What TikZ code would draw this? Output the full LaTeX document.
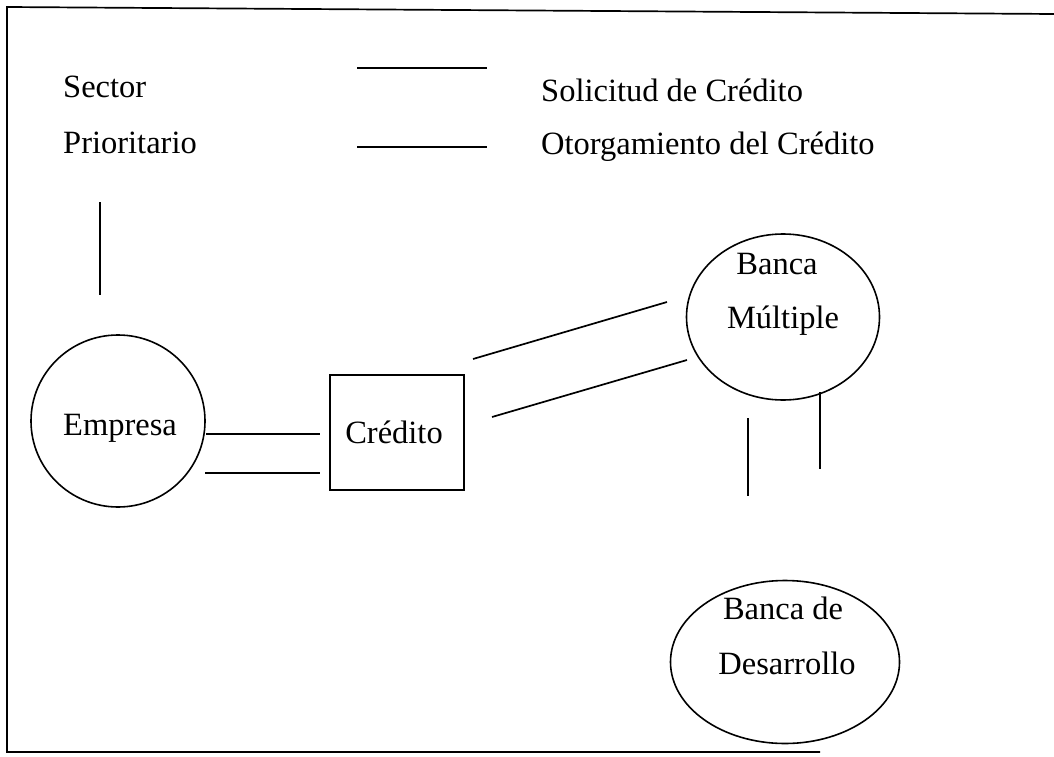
\documentclass[tikz,border=0pt]{standalone}
\usepackage{fontspec}
\setmainfont{Liberation Serif}
\usetikzlibrary{shapes.geometric}
\begin{document}
\begin{tikzpicture}[x=1pt,y=-1pt,
  every node/.style={font=\fontsize{32.5}{38}\selectfont, inner sep=0pt},
  stroke/.style={line width=1.7pt, black},
  bubble/.style={draw, ellipse, line width=1.6pt, inner sep=0pt},
  lbl/.style={anchor=center},
  lgd/.style={anchor=west}]
\useasboundingbox (0,0) rectangle (1054,757);
% frame
\coordinate (fTL) at (7,7);
\coordinate (fTR) at (1054,14);
\coordinate (fBL) at (7,752);
\coordinate (fBR) at (820,752);
\draw[stroke] (fTR) -- (fTL) -- (fBL) -- (fBR);
% legend
\node[lgd] (sector) at (63,87) {Sector};
\node[lgd] (prior) at (63,143) {Prioritario};
\coordinate (l1a) at (357,68); \coordinate (l1b) at (487,68);
\coordinate (l2a) at (357,147); \coordinate (l2b) at (487,147);
\draw[stroke] (l1a) -- (l1b);
\draw[stroke] (l2a) -- (l2b);
\node[lgd] (sol) at (541,90) {Solicitud de Crédito};
\node[lgd] (oto) at (541,147) {Otorgamiento del Crédito};
% sector line
\coordinate (s1) at (100,202); \coordinate (s2) at (100,295);
\draw[stroke] (s1) -- (s2);
% Empresa
\node[bubble, minimum width=174pt, minimum height=172pt] (emp) at (118,421) {};
\node[lbl] (empT) at (120,428) {Empresa};
% Credito
\node[draw, line width=1.7pt, minimum width=134pt, minimum height=115pt] (cred) at (397,432.5) {};
\node[lbl] (credT) at (394,432) {Crédito};
\coordinate (e1b) at (320,434);
\coordinate (e2a) at (205,473); \coordinate (e2b) at (320,473);
\draw[stroke] (emp.east |- e1b) -- (e1b);
\draw[stroke] (e2a) -- (e2b);
% Banca Multiple
\node[bubble, minimum width=193pt, minimum height=166pt] (bm) at (783,317) {};
\node[lbl] (bmT1) at (777,264) {Banca};
\node[lbl] (bmT2) at (783,321) {Múltiple};
\coordinate (d1a) at (473,359); \coordinate (d1b) at (667,302);
\coordinate (d2a) at (492,417); \coordinate (d2b) at (687,360);
\draw[stroke] (d1a) -- (d1b);
\draw[stroke] (d2a) -- (d2b);
% vertical lines
\coordinate (v1a) at (748,418); \coordinate (v1b) at (748,496);
\coordinate (v2a) at (820,392); \coordinate (v2b) at (820,469);
\draw[stroke] (v1a) -- (v1b);
\draw[stroke] (v2a) -- (v2b);
% Banca de Desarrollo
\node[bubble, minimum width=229pt, minimum height=163pt] (bd) at (785,662) {};
\node[lbl] (bdT1) at (783,608) {Banca de};
\node[lbl] (bdT2) at (787,663) {Desarrollo};
\end{tikzpicture}
\end{document}
